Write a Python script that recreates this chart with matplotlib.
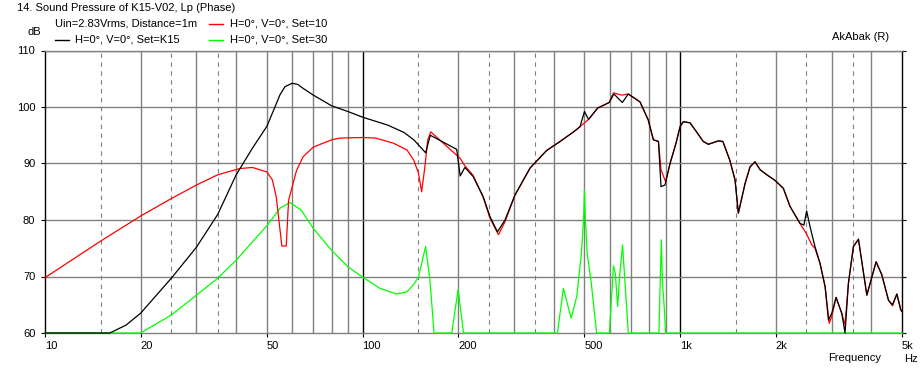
import matplotlib
matplotlib.use("Agg")
import matplotlib.pyplot as plt

plt.rcParams['font.family'] = ['Liberation Sans', 'DejaVu Sans']
plt.rcParams['font.size'] = 8

# --- data (Hz, dB) ---
freq_k15 = [10, 16, 18, 20, 25, 30, 35, 40, 45, 50, 55, 57, 60, 62.5, 65, 70, 80, 90, 100, 120,
            135, 145, 158, 163.5, 198, 203, 210, 223, 240, 252, 266, 281, 302, 337, 380, 419,
            462, 484, 500, 515, 550, 598, 619, 658, 687, 748, 794, 824, 855, 871, 897, 930,
            970, 1000, 1024, 1075, 1127, 1183, 1228, 1320, 1364, 1434, 1490, 1526, 1603,
            1661, 1722, 1787, 1876, 1992, 2115, 2220, 2386, 2455, 2504, 2567, 2660, 2760,
            2863, 2933, 3005, 3100, 3230, 3308, 3390, 3515, 3646, 3875, 4144, 4319, 4533,
            4666, 4817, 4956, 5000]
spl_k15 = [60, 60, 61.4, 63.5, 69.7, 75.2, 81.0, 88.0, 92.7, 96.6, 102.2, 103.6, 104.2, 104.0,
           103.3, 102.1, 100.2, 99.2, 98.2, 96.8, 95.5, 94.2, 91.9, 95.0, 92.5, 87.8, 89.3,
           87.7, 84.1, 80.6, 77.9, 80.0, 84.4, 89.2, 92.3, 93.9, 95.6, 96.5, 99.2, 97.8,
           99.8, 100.8, 102.3, 100.8, 102.3, 100.9, 97.7, 94.2, 93.9, 85.9, 86.2, 90.0, 93.5,
           96.5, 97.4, 97.2, 95.6, 93.9, 93.4, 94.0, 93.9, 90.6, 87.1, 81.2, 86.5, 89.4,
           90.3, 88.9, 88.0, 87.0, 85.6, 82.4, 79.4, 79.1, 81.6, 78.8, 75.3, 72.3, 68.2,
           62.3, 63.5, 66.3, 63.5, 60.0, 68.8, 75.3, 76.6, 66.7, 72.6, 70.3, 65.8, 65.0,
           66.9, 64.1, 63.8]

freq_set10 = [10, 15, 20, 25, 30, 35, 41, 45, 50, 52, 53.5, 55.7, 57.5, 58.5, 62, 65, 70, 80,
              85, 100, 110, 125, 138, 145, 150, 153.5, 157, 160.5, 164, 203, 210, 223, 240,
              252, 268, 281, 302, 337, 380, 419, 462, 484, 500, 515, 550, 598, 617, 656, 687,
              748, 794, 824, 855, 871, 900, 930, 970, 1000, 1024, 1075, 1127, 1183, 1228,
              1320, 1364, 1434, 1490, 1526, 1603, 1661, 1722, 1787, 1876, 1992, 2115, 2220,
              2386, 2504, 2600, 2660, 2760, 2863, 2950, 3005, 3100, 3230, 3308, 3390, 3515,
              3646, 3875, 4144, 4319, 4533, 4666, 4817, 4956, 5000]
spl_set10 = [69.8, 76.3, 80.7, 83.8, 86.2, 88.0, 89.1, 89.3, 88.5, 87.1, 84.1, 75.4, 75.4,
             83.5, 88.8, 91.2, 92.9, 94.2, 94.5, 94.6, 94.5, 93.6, 92.4, 90.6, 88.3, 85.0,
             89.2, 94.2, 95.6, 90.9, 89.6, 87.9, 84.0, 80.3, 77.4, 79.7, 84.4, 89.2, 92.3,
             93.9, 95.6, 96.5, 97.2, 97.8, 99.8, 100.8, 102.5, 102.1, 102.3, 100.9, 97.7,
             94.2, 93.9, 88.9, 86.8, 90.0, 93.5, 96.5, 97.4, 97.2, 95.6, 93.9, 93.4, 94.0,
             93.9, 90.6, 87.1, 81.2, 86.5, 89.4, 90.3, 88.9, 88.0, 87.0, 85.6, 82.4, 79.4,
             77.5, 75.6, 75.0, 72.3, 68.2, 61.7, 63.0, 66.3, 63.5, 61.5, 68.8, 75.3, 76.6,
             66.7, 72.6, 70.3, 65.8, 64.8, 66.9, 64.1, 63.8]

freq_set30 = [10, 20, 25, 30, 35, 40, 50, 55, 59, 64, 70, 80, 90, 100, 113.5, 128, 138, 145,
              150, 158, 163, 168, 191, 200, 208, 411, 429, 454, 473, 490, 497, 500, 503, 510,
              524, 546, 599, 617, 625, 636, 645, 659, 670, 687, 858, 866, 873, 880, 893, 900,
              5000]
spl_set30 = [60, 60, 63.2, 66.7, 69.7, 72.9, 79.0, 82.1, 83.1, 81.8, 78.5, 74.6, 71.7, 69.9,
             67.9, 66.9, 67.3, 68.6, 69.9, 75.3, 69.4, 60, 60, 67.7, 60, 60, 67.9, 62.6, 66.5,
             74.7, 80.5, 85.3, 80.5, 74.0, 69.4, 60, 60, 71.9, 70.6, 64.7, 70.0, 75.6, 69.4,
             60, 60, 69.0, 76.5, 69.0, 64.0, 60, 60]

xtick_vals = [10, 20, 50, 100, 200, 500, 1000, 2000, 5000]
xtick_text = ['10', '20', '50', '100', '200', '500', '1k', '2k', '5k']
ytick_vals = [60, 70, 80, 90, 100, 110]

W, H = 924, 371
fig = plt.figure(figsize=(W / 100, H / 100), dpi=100)
ax = fig.add_axes([45 / W, (H - 333) / H, (902 - 45) / W, (333 - 50.5) / H])

grey = '#808080'
solid_grid = [20, 30, 40, 50, 60, 70, 80, 90, 200, 300, 400, 500, 600, 700, 800, 900,
              2000, 3000, 4000]
dashed_grid = [15, 25, 35, 150, 250, 350, 1500, 2500, 3500]
for f in solid_grid:
    ax.axvline(f, color=grey, lw=1.0, zorder=1)
for f in dashed_grid:
    ax.axvline(f, color=grey, lw=0.8, dashes=(4, 4), zorder=1)
for f in [100, 1000]:
    ax.axvline(f, color='black', lw=1.0, zorder=1)
for v in ytick_vals[1:]:
    ax.axhline(v, color=grey, lw=1.0, zorder=1)

ax.plot(freq_set30, spl_set30, color='#00ff00', lw=0.9, zorder=3, clip_on=False)
ax.plot(freq_set10, spl_set10, color='#ff0000', lw=0.9, zorder=4, clip_on=False)
ax.plot(freq_k15, spl_k15, color='black', lw=0.9, zorder=5, clip_on=False)

ax.set_xscale('log')
ax.set_xlim(10, 5000)
ax.set_ylim(60, 110)
ax.set_xticks(xtick_vals)
ax.set_xticklabels(xtick_text)
ax.minorticks_off()
for lab in ax.get_xticklabels():
    lab.set_horizontalalignment('left')
ax.set_yticks(ytick_vals)
ax.tick_params(axis='x', direction='out', length=3, width=0.8, pad=2.5, labelsize=8)
ax.tick_params(axis='y', direction='out', length=3, width=0.8, pad=4, labelsize=8,
               right=True)

for s in ['left', 'right']:
    ax.spines[s].set_color('black')
    ax.spines[s].set_linewidth(1.0)
for s in ['top', 'bottom']:
    ax.spines[s].set_color(grey)
    ax.spines[s].set_linewidth(1.0)

# header texts (figure pixel coordinates)
def ftext(x, y, s, **kw):
    fig.text(x / W, 1 - y / H, s, fontsize=8, va='center', **kw)

ftext(17, 8, '14. Sound Pressure of K15-V02, Lp (Phase)')
ftext(55, 24, 'Uin=2.83Vrms, Distance=1m')
ftext(230, 24, 'H=0°, V=0°, Set=10')
ftext(75, 40, 'H=0°, V=0°, Set=K15')
ftext(230, 40, 'H=0°, V=0°, Set=30')
ftext(27, 32, 'dB')
ftext(832, 37, 'AkAbak (R)')
ftext(828, 358, 'Frequency')
ftext(904, 359, 'Hz')

for (x0, x1, y, c) in [(209, 223, 24, '#ff0000'), (55, 69, 40, 'black'),
                       (209, 223, 40, '#00ff00')]:
    fig.add_artist(plt.Line2D([x0 / W, x1 / W], [1 - y / H, 1 - y / H], color=c, lw=1.0))

fig.savefig('out.png', dpi=100)
